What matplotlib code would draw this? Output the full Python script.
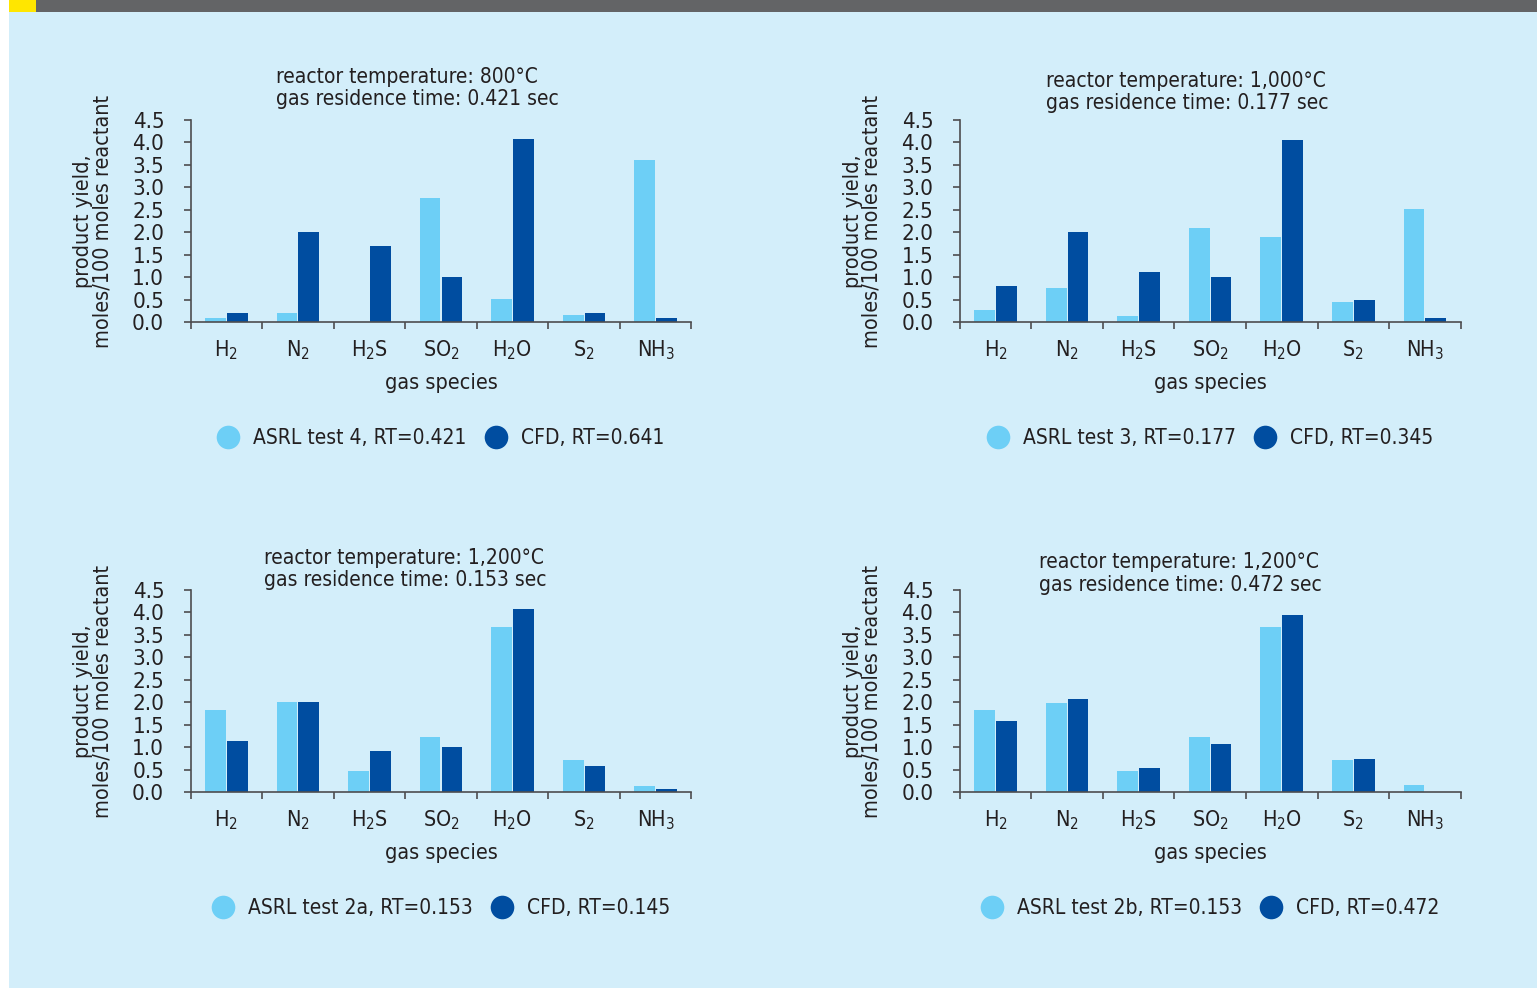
import numpy as np
import matplotlib
matplotlib.use("Agg")
import matplotlib.pyplot as plt
from matplotlib.lines import Line2D
from matplotlib.patches import Rectangle
from matplotlib import font_manager

# prefer a narrow face when one is installed
narrow = [f.name for f in font_manager.fontManager.ttflist
          if f.stretch in ('condensed', 'semi-condensed', 'extra-condensed')
          or 'Narrow' in f.name or 'Condensed' in f.name]
family = (narrow[:1] if narrow else []) + ['DejaVu Sans']
plt.rcParams['font.family'] = family
plt.rcParams['font.stretch'] = 'condensed'
plt.rcParams['mathtext.fontset'] = 'custom'
plt.rcParams['mathtext.rm'] = family[0]
plt.rcParams['mathtext.it'] = family[0]

# gas species on the x axis
species = [r'H$_2$', r'N$_2$', r'H$_2$S', r'SO$_2$', r'H$_2$O', r'S$_2$', r'NH$_3$']

# product yield, moles/100 moles reactant
asrl_800 = [0.10, 0.21, 0.00, 2.77, 0.52, 0.16, 3.61]
cfd_800 = [0.20, 2.01, 1.70, 1.01, 4.08, 0.21, 0.10]

asrl_1000 = [0.26, 0.76, 0.14, 2.10, 1.90, 0.45, 2.52]
cfd_1000 = [0.81, 2.01, 1.12, 1.01, 4.05, 0.50, 0.10]

asrl_1200a = [1.82, 2.00, 0.47, 1.22, 3.67, 0.71, 0.13]
cfd_1200a = [1.13, 2.00, 0.92, 1.00, 4.07, 0.58, 0.07]

asrl_1200b = [1.82, 1.98, 0.47, 1.22, 3.67, 0.71, 0.16]
cfd_1200b = [1.58, 2.07, 0.53, 1.07, 3.94, 0.73, 0.00]

titles = [
    'reactor temperature: 800°C\ngas residence time: 0.421 sec',
    'reactor temperature: 1,000°C\ngas residence time: 0.177 sec',
    'reactor temperature: 1,200°C\ngas residence time: 0.153 sec',
    'reactor temperature: 1,200°C\ngas residence time: 0.472 sec',
]
asrl_labels = ['ASRL test 4, RT=0.421', 'ASRL test 3, RT=0.177',
               'ASRL test 2a, RT=0.153', 'ASRL test 2b, RT=0.153']
cfd_labels = ['CFD, RT=0.641', 'CFD, RT=0.345', 'CFD, RT=0.145', 'CFD, RT=0.472']

asrl_sets = [asrl_800, asrl_1000, asrl_1200a, asrl_1200b]
cfd_sets = [cfd_800, cfd_1000, cfd_1200a, cfd_1200b]

LIGHT = '#6dcff6'
DARK = '#004da0'
BG = '#d3eefa'
INK = '#231f20'
AXIS = '#4d4d4f'

W, H = 1537, 988
fig = plt.figure(figsize=(W / 100, H / 100), dpi=100)
fig.patch.set_facecolor('white')

# page background and header band
fig.patches.append(Rectangle((9 / W, 0), 1 - 9 / W, 1 - 12 / H, transform=fig.transFigure,
                             facecolor=BG, edgecolor='none', zorder=-10))
fig.patches.append(Rectangle((36 / W, 1 - 12 / H), 1 - 36 / W, 12 / H, transform=fig.transFigure,
                             facecolor='#636466', edgecolor='none', zorder=-10))
fig.patches.append(Rectangle((9 / W, 1 - 12 / H), 27 / W, 12 / H, transform=fig.transFigure,
                             facecolor='#ffe600', edgecolor='none', zorder=-10))

# axes boxes in pixels: left, top, right, bottom ; title offset (dx, dy above top)
boxes = [(190.6, 120, 691.4, 322), (959.8, 120, 1460.6, 322),
         (190.6, 590, 691.4, 792), (959.8, 590, 1460.6, 792)]
title_pos = [(85, 32), (86, 28), (73, 21), (79, 16.5)]

x = np.arange(len(species))
bw = 0.29

for i, (l, t, r, b) in enumerate(boxes):
    ax = fig.add_axes([l / W, 1 - b / H, (r - l) / W, (b - t) / H])
    ax.set_zorder(1)
    ax.set_facecolor('none')
    ax.bar(x - bw / 2 - 0.007, asrl_sets[i], bw, color=LIGHT, zorder=2)
    ax.bar(x + bw / 2 + 0.007, cfd_sets[i], bw, color=DARK, zorder=2)

    ax.set_xlim(-0.5, 6.5)
    ax.set_ylim(0, 4.5)
    ax.set_yticks(np.arange(0, 4.51, 0.5))
    ax.set_yticklabels([f'{v:.1f}' for v in np.arange(0, 4.51, 0.5)])
    ax.set_xticks(np.arange(-0.5, 6.6, 1.0))
    ax.set_xticklabels([])
    ax.set_xticks(x, minor=True)
    ax.set_xticklabels(species, minor=True)

    for s in ['top', 'right']:
        ax.spines[s].set_visible(False)
    for s in ['left', 'bottom']:
        ax.spines[s].set_color(AXIS)
        ax.spines[s].set_linewidth(1.2)
    ax.tick_params(axis='y', direction='out', length=5, width=1.2, color=AXIS,
                   labelsize=16, labelcolor=INK, pad=14)
    ax.tick_params(axis='x', which='major', direction='out', length=5, width=1.2, color=AXIS)
    ax.tick_params(axis='x', which='minor', length=0, labelsize=15.5, labelcolor=INK, pad=12)

    ax.set_xlabel('gas species', fontsize=15.5, color=INK, labelpad=8)
    ax.set_ylabel('product yield,\nmoles/100 moles reactant', fontsize=15.5, color=INK,
                  linespacing=0.95, va='center')
    ax.yaxis.set_label_coords(-0.195, 0.5)

    dx, dy = title_pos[i]
    ax.text(dx / (r - l), 1 + dy / (b - t), titles[i], transform=ax.transAxes,
            ha='left', va='center', fontsize=15, color=INK, linespacing=1.15)

    handles = [Line2D([], [], marker='o', linestyle='none', markersize=17,
                      markerfacecolor=LIGHT, markeredgecolor='none'),
               Line2D([], [], marker='o', linestyle='none', markersize=17,
                      markerfacecolor=DARK, markeredgecolor='none')]
    ax.legend(handles, [asrl_labels[i], cfd_labels[i]], loc='center',
              bbox_to_anchor=(0.5, -116 / (b - t)), ncol=2, frameon=False,
              fontsize=15, handlelength=1.0, handletextpad=0.7, columnspacing=0.9,
              labelcolor=INK)

fig.savefig('out.png', dpi=100, facecolor=fig.get_facecolor())
